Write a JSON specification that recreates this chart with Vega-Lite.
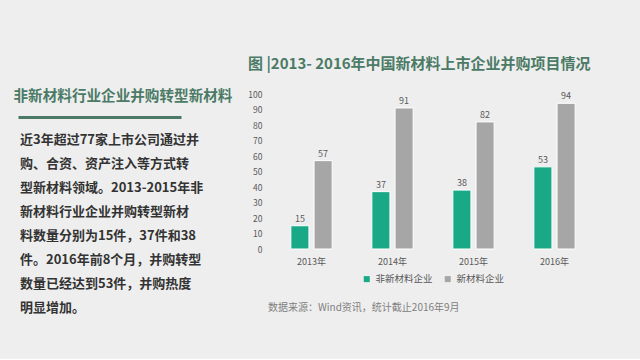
{
  "$schema": "https://vega.github.io/schema/vega-lite/v6.json",
  "background": "#eeeeee",
  "padding": {"left": 13, "top": 57, "right": 49, "bottom": 44},
  "config": {
    "view": {"stroke": null},
    "font": "Noto Sans CJK SC",
    "legend": {"layout": {"bottom": {"anchor": "middle"}}}
  },
  "title": {"text": "图 |2013- 2016年中国新材料上市企业并购项目情况", "anchor": "start", "frame": "group", "dx": 230, "fontSize": 15, "fontWeight": "bold", "color": "#4b7a66", "offset": 16},
  "resolve": {"scale": {"color": "independent"}, "legend": {"color": "independent"}},
  "columns": 2,
  "align": "none",
  "spacing": 15,
  "concat": [
    {
      "width": 163,
      "height": 214,
      "data": {"values": [
        {"line": 1, "text": "近3年超过77家上市公司通过并"},
        {"line": 2, "text": "购、合资、资产注入等方式转"},
        {"line": 3, "text": "型新材料领域。2013-2015年非"},
        {"line": 4, "text": "新材料行业企业并购转型新材"},
        {"line": 5, "text": "料数量分别为15件，37件和38"},
        {"line": 6, "text": "件。2016年前8个月，并购转型"},
        {"line": 7, "text": "数量已经达到53件，并购热度"},
        {"line": 8, "text": "明显增加。"}
      ]},
      "mark": {"type": "text", "align": "left", "baseline": "middle", "fontSize": 13, "fontWeight": "bold", "color": "#333333", "dx": 2},
      "encoding": {
        "y": {"field": "line", "type": "ordinal", "axis": null, "scale": {"type": "point", "padding": 0.9583, "align": 1}},
        "x": {
          "datum": 0, "type": "quantitative",
          "scale": {"domain": [0, 1]},
          "axis": {
            "orient": "top", "title": "非新材料行业企业并购转型新材料",
            "labels": false, "ticks": false, "grid": false,
            "domainColor": "#4b7a66", "domainWidth": 3, "offset": -23,
            "titleAnchor": "start", "titleAlign": "left", "titleX": -5,
            "titleFontSize": 14.6, "titleColor": "#4b7a66", "titleFontWeight": "bold", "titlePadding": 14
          }
        },
        "text": {"field": "text"}
      }
    },
    {
      "width": 324,
      "height": 155,
      "title": {"text": "数据来源：Wind资讯，统计截止2016年9月", "orient": "bottom", "anchor": "start", "frame": "group", "dx": -3, "fontSize": 10, "fontWeight": "normal", "color": "#808080", "offset": 19},
      "data": {"values": [
        {"year": "2013年", "type": "非新材料企业", "value": 15},
        {"year": "2013年", "type": "新材料企业", "value": 57},
        {"year": "2014年", "type": "非新材料企业", "value": 37},
        {"year": "2014年", "type": "新材料企业", "value": 91},
        {"year": "2015年", "type": "非新材料企业", "value": 38},
        {"year": "2015年", "type": "新材料企业", "value": 82},
        {"year": "2016年", "type": "非新材料企业", "value": 53},
        {"year": "2016年", "type": "新材料企业", "value": 94}
      ]},
      "encoding": {
        "x": {
          "field": "year", "type": "nominal",
          "scale": {"paddingInner": 0.49, "paddingOuter": 0.245},
          "axis": {"title": null, "domain": false, "ticks": false, "labelAngle": 0, "labelFontSize": 9, "labelColor": "#595959", "labelPadding": 8}
        },
        "xOffset": {"field": "type", "type": "nominal", "sort": ["非新材料企业", "新材料企业"], "scale": {"paddingInner": 0.22}},
        "y": {
          "field": "value", "type": "quantitative",
          "scale": {"domain": [0, 100]},
          "axis": {"title": null, "values": [0, 10, 20, 30, 40, 50, 60, 70, 80, 90, 100], "domain": false, "ticks": false, "grid": false, "labelFontSize": 8.5, "labelColor": "#595959", "labelPadding": 9}
        }
      },
      "layer": [
        {
          "mark": {"type": "bar", "stroke": "#ffffff", "strokeWidth": 1},
          "encoding": {
            "color": {
              "field": "type", "type": "nominal",
              "scale": {"domain": ["非新材料企业", "新材料企业"], "range": ["#1aa987", "#a6a6a6"]},
              "legend": {"orient": "bottom", "title": null, "direction": "horizontal", "symbolType": "square", "symbolSize": 36, "symbolStrokeWidth": 0, "labelFontSize": 9.5, "labelColor": "#595959", "offset": 8, "columnPadding": 10}
            }
          }
        },
        {
          "mark": {"type": "text", "baseline": "bottom", "dy": -2, "fontSize": 9, "color": "#595959"},
          "encoding": {"text": {"field": "value", "type": "quantitative"}}
        }
      ]
    }
  ]
}
